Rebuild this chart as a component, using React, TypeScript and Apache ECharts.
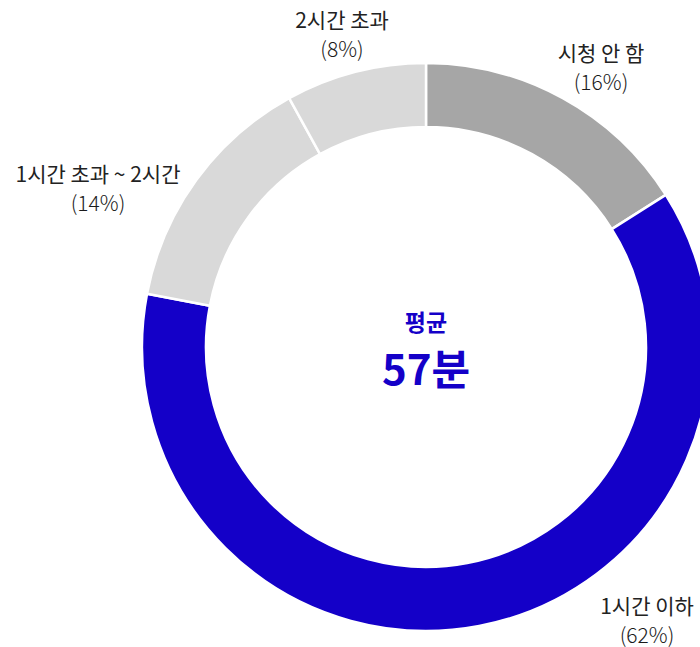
import React, { useEffect, useRef } from "react";
import * as echarts from "echarts";

const categories = ["시청 안 함", "1시간 이하", "1시간 초과 ~ 2시간", "2시간 초과"];
const values = [16, 62, 14, 8];
const colors = ["#a6a6a6", "#1400c8", "#d9d9d9", "#d9d9d9"];
const centerTitle = "평균";
const centerValue = "57분";

const labelPositions: [number, number][] = [
  [601, 66],
  [647, 619],
  [98, 187],
  [342, 33],
];

export default function App() {
  const ref = useRef<HTMLDivElement>(null);
  useEffect(() => {
    document.body.style.margin = "0";
    if (!ref.current) return;
    const chart = echarts.init(ref.current, null, { renderer: "svg" });
    const font = "'Noto Sans CJK KR', 'Noto Sans', sans-serif";
    const cx = 426;
    const cy = 347;
    chart.setOption({
      animation: false,
      backgroundColor: "#ffffff",
      series: [
        {
          type: "pie",
          center: [cx, cy],
          radius: [220, 284],
          startAngle: 90,
          clockwise: true,
          avoidLabelOverlap: false,
          data: categories.map((name, i) => ({
            name,
            value: values[i],
            itemStyle: { color: colors[i] },
          })),
          itemStyle: { borderColor: "#ffffff", borderWidth: 2.5 },
          emphasis: { disabled: true },
          label: {
            show: true,
            position: "outside",
            fontFamily: font,
            formatter: (p: any) => `{n|${p.name}}\n{p|(${p.value}%)}`,
            rich: {
              n: { fontSize: 21, color: "#222222", fontFamily: font, lineHeight: 29, align: "center" },
              p: { fontSize: 21, fontWeight: 300, color: "#1a1a1a", fontFamily: font, lineHeight: 29, align: "center" },
            },
          },
          labelLine: { show: false },
          labelLayout: (params: any) => {
            const pos = labelPositions[params.dataIndex];
            return { x: pos[0], y: pos[1], align: "center", verticalAlign: "middle" };
          },
        },
      ],
      graphic: [
        {
          type: "text",
          x: cx,
          y: cy - 26,
          style: {
            text: centerTitle,
            fill: "#1400c8",
            font: `bold 23px ${font}`,
            textAlign: "center",
            textVerticalAlign: "middle",
          },
        },
        {
          type: "text",
          x: cx,
          y: cy + 19,
          style: {
            text: centerValue,
            fill: "#1400c8",
            font: `bold 42px ${font}`,
            textAlign: "center",
            textVerticalAlign: "middle",
          },
        },
      ],
    });
    return () => chart.dispose();
  }, []);
  return <div ref={ref} style={{ width: 700, height: 647 }} />;
}
